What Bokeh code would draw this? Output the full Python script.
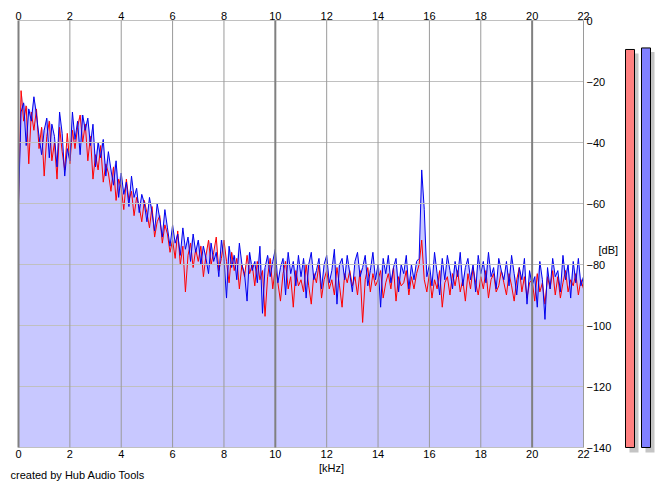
import numpy as np
from bokeh.plotting import figure
from bokeh.models import Range1d, LinearAxis, FixedTicker, Label
from bokeh.embed import file_html
from bokeh.resources import INLINE

# ---------------- data ----------------
FREQ_STEP_KHZ = 0.1

# left channel (red), dB, 0.0 .. 22.0 kHz
left_db = [
    -60, -23, -33, -28, -47, -30, -36, -29, -42, -35,
    -51, -38, -33, -46, -40, -52, -35, -43, -49, -37,
    -47, -36, -42, -35, -31, -40, -34, -46, -38, -52,
    -44, -49, -41, -53, -47, -50, -56, -48, -59, -52,
    -55, -62, -52, -59, -56, -64, -58, -61, -66, -59,
    -63, -68, -61, -71, -66, -64, -73, -67, -70, -76,
    -72, -78, -69, -80, -74, -89, -77, -73, -81, -75,
    -79, -74, -84, -77, -72, -80, -76, -71, -82, -78,
    -72, -79, -86, -76, -82, -78, -88, -80, -84, -77,
    -83, -80, -87, -79, -85, -82, -97, -84, -78, -88,
    -81, -86, -92, -83, -79, -88, -84, -94, -82, -87,
    -85, -89, -80, -87, -93, -83, -86, -80, -91, -85,
    -82, -88, -85, -90, -81, -87, -94, -83, -86, -82,
    -87, -84, -90, -82, -99, -85, -81, -89, -83, -87,
    -85, -82, -91, -86, -83, -88, -81, -92, -84, -87,
    -86, -82, -90, -84, -88, -83, -80, -72, -85, -89,
    -83, -91, -85, -88, -82, -94, -86, -84, -90, -83,
    -87, -82, -89, -85, -92, -83, -88, -81, -86, -90,
    -84, -88, -82, -91, -85, -83, -89, -87, -82, -86,
    -90, -83, -87, -92, -85, -81, -89, -84, -91, -86,
    -85, -92, -83, -89, -86, -93, -84, -88, -82, -90,
    -84, -91, -86, -82, -89, -85, -87, -83, -90, -85,
    -88,
]

# right channel (blue), dB, 0.0 .. 22.0 kHz
right_db = [
    -60, -30, -27, -41, -29, -33, -25, -31, -38, -44,
    -36, -32, -45, -34, -38, -48, -30, -37, -51, -42,
    -46, -30, -39, -33, -44, -31, -36, -32, -41, -34,
    -48, -40, -45, -39, -51, -43, -49, -54, -46, -58,
    -50, -57, -53, -61, -51, -58, -55, -63, -57, -60,
    -66, -58, -63, -69, -60, -65, -71, -62, -68, -74,
    -67, -73, -70, -77, -68, -75, -71, -79, -70, -76,
    -72, -80, -74, -78, -83, -73, -79, -76, -84, -72,
    -78, -91, -74, -81, -77, -85, -73, -80, -83, -92,
    -76, -82, -79, -86, -74, -96, -81, -77, -84, -79,
    -75, -86, -81, -78, -90, -76, -83, -79, -87, -77,
    -84, -78, -91, -80, -76, -85, -82, -78, -88, -80,
    -77, -86, -82, -75, -93, -80, -78, -85, -77, -83,
    -89, -79, -76, -84, -81, -77, -87, -82, -76, -85,
    -80, -94, -78, -83, -77, -86, -81, -78, -89, -80,
    -83, -77, -88, -80, -85, -79, -78, -49, -62, -84,
    -80, -87, -76, -83, -90, -78, -85, -77, -82, -88,
    -79, -84, -76, -87, -81, -78, -85, -80, -89, -77,
    -83, -79, -86, -76, -84, -81, -88, -78, -82, -85,
    -79, -87, -77, -83, -90, -81, -85, -78, -93, -82,
    -87, -84, -94, -79, -85, -98, -81, -88, -78, -84,
    -82, -89, -77, -85, -80, -91, -79, -86, -78, -87,
    -84,
]

x_ticks = [0, 2, 4, 6, 8, 10, 12, 14, 16, 18, 20, 22]
x_major_lines = [0, 10, 20]
y_ticks = [0, -20, -40, -60, -80, -100, -120, -140]

levels_db = [-9.5, -9.0]           # peak meter: left, right
level_colors = ["#ff8080", "#8080ff"]

x_label = "[kHz]"
y_label = "[dB]"
credit = "created by Hub Audio Tools"

# ---------------- layout (pixels inside the figure) ----------------
W, H = 660, 484
F_LEFT, F_RIGHT, F_TOP, F_BOTTOM = 18, 583, 20, 447   # spectrum area
X_MIN, X_MAX = 0.0, 22.0
Y_MIN, Y_MAX = -140.0, 0.0

kx = (X_MAX - X_MIN) / (F_RIGHT - F_LEFT)
ky = (Y_MAX - Y_MIN) / (F_BOTTOM - F_TOP)
x_range = Range1d(X_MIN - F_LEFT * kx, X_MAX + (W - F_RIGHT) * kx)
y_range = Range1d(Y_MIN - (H - F_BOTTOM) * ky, Y_MAX + F_TOP * ky)

FONT = "Liberation Sans"
FSIZE = "11px"

freq = np.arange(len(left_db)) * FREQ_STEP_KHZ
env = np.maximum(np.array(left_db), np.array(right_db))

p = figure(width=W, height=H, x_range=x_range, y_range=y_range,
           output_backend="svg", toolbar_location=None,
           x_axis_location=None, y_axis_location=None,
           min_border=0)
p.extra_x_ranges = {"px": Range1d(0, W)}
p.extra_y_ranges = {"py": Range1d(H, 0)}
p.grid.visible = False
p.outline_line_color = None
p.background_fill_color = "white"
p.border_fill_color = "white"

# spectrum
p.varea(x=freq, y1=Y_MIN, y2=env, fill_color="#c8c8ff")
p.line(freq, left_db, line_color="#ff0000", line_width=1)
p.line(freq, right_db, line_color="#0000ee", line_width=1)

# grid lines, on top of the spectrum
p.segment(x0=X_MIN, y0=y_ticks, x1=X_MAX, y1=y_ticks,
          line_color="#c0c0c0", line_width=1)
thin = [t for t in x_ticks if t not in x_major_lines]
p.segment(x0=thin, y0=Y_MIN, x1=thin, y1=Y_MAX,
          line_color="#9a9a9a", line_width=1)
p.segment(x0=x_major_lines, y0=Y_MIN, x1=x_major_lines, y1=Y_MAX,
          line_color="#808080", line_width=2)


def style_axis(ax, standoff):
    ax.axis_line_color = None
    ax.major_tick_line_color = None
    ax.minor_tick_line_color = None
    ax.major_tick_out = 0
    ax.major_tick_in = 0
    ax.minor_tick_out = 0
    ax.minor_tick_in = 0
    ax.major_label_text_font = FONT
    ax.major_label_text_font_size = FSIZE
    ax.major_label_text_color = "black"
    ax.major_label_standoff = standoff


top = LinearAxis(ticker=FixedTicker(ticks=x_ticks), fixed_location=Y_MAX)
style_axis(top, 1)
p.add_layout(top, "above")

bottom = LinearAxis(ticker=FixedTicker(ticks=x_ticks), fixed_location=Y_MIN)
style_axis(bottom, 2)
p.add_layout(bottom, "below")

right = LinearAxis(ticker=FixedTicker(ticks=y_ticks), fixed_location=X_MAX)
style_axis(right, 3)
p.add_layout(right, "right")

for txt, x, y, align in [(x_label, 331, 467, "center"),
                         (y_label, 598, 249, "left"),
                         (credit, 10, 474, "left")]:
    p.add_layout(Label(x=x, y=y, x_range_name="px", y_range_name="py",
                       text=txt, text_align=align, text_baseline="middle",
                       text_font=FONT, text_font_size=FSIZE, text_color="black"))

# ---------------- level meters ----------------
bar_left = [625, 641]
bar_w = 9
shadow_dx = 4
shadow_dy_db = 4 * ky
p.quad(left=[b + shadow_dx for b in bar_left],
       right=[b + bar_w + shadow_dx for b in bar_left],
       bottom=Y_MIN - 5 * ky, top=[lv - shadow_dy_db for lv in levels_db],
       fill_color="#c4c4c4", line_color=None, x_range_name="px")
p.quad(left=bar_left, right=[b + bar_w for b in bar_left],
       bottom=Y_MIN, top=levels_db,
       fill_color=level_colors, line_color="black", line_width=1,
       x_range_name="px")

open("out.html", "w").write(file_html(p, INLINE))
